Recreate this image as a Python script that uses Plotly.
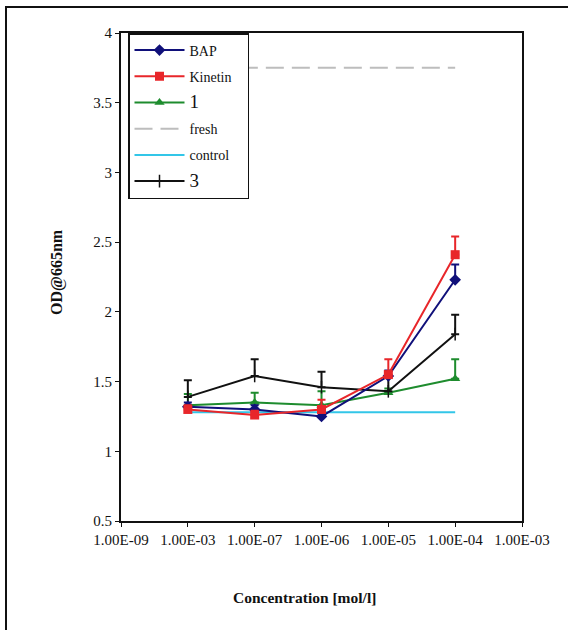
import plotly.graph_objects as go

tick_labels = ["1.00E-09", "1.00E-03", "1.00E-07", "1.00E-06", "1.00E-05", "1.00E-04", "1.00E-03"]
x_pos = [1, 2, 3, 4, 5]

bap = [1.32, 1.30, 1.25, 1.54, 2.23]
bap_err = [0.03, 0.03, 0.03, 0.04, 0.11]
kinetin = [1.30, 1.26, 1.30, 1.55, 2.41]
kinetin_err = [0.03, 0.03, 0.07, 0.11, 0.13]
s1 = [1.33, 1.35, 1.33, 1.42, 1.52]
s1_err = [0.08, 0.07, 0.10, 0.03, 0.14]
s3 = [1.39, 1.54, 1.46, 1.43, 1.84]
s3_err = [0.12, 0.12, 0.11, 0.10, 0.14]
fresh = [3.75, 3.75, 3.75, 3.75, 3.75]
control = [1.28, 1.28, 1.28, 1.28, 1.28]

FONT = "Liberation Serif"
L, R, T, B = 121, 522, 33, 521
PW, PH = R - L, B - T

def px(x):
    return (x - L) / PW

def py(y):
    return (B - y) / PH

def err(vals, color):
    return dict(type="data", array=vals, arrayminus=[0]*len(vals), symmetric=False,
                color=color, thickness=2, width=4)

fig = go.Figure()
fig.add_trace(go.Scatter(x=x_pos, y=fresh, name="fresh", mode="lines",
                         line=dict(color="#BDBDBD", width=2, dash="18px,8px"), legendrank=4, legendgroup="f"))
fig.add_trace(go.Scatter(x=x_pos, y=control, name="control", mode="lines",
                         line=dict(color="#33C6E8", width=2), legendrank=5, legendgroup="c"))
fig.add_trace(go.Scatter(x=x_pos, y=s1, name="<span style='font-size:19px'>1</span>", mode="lines+markers",
                         line=dict(color="#1E8C2E", width=2),
                         marker=dict(symbol="triangle-up", size=9, color="#1E8C2E"),
                         error_y=err(s1_err, "#1E8C2E"), legendrank=3, legendgroup="g"))
fig.add_trace(go.Scatter(x=x_pos, y=s3, name="<span style='font-size:19px'>3</span>", mode="lines+markers",
                         line=dict(color="#111111", width=2),
                         marker=dict(symbol="line-ns", size=9, line=dict(color="#111111", width=1.5)),
                         error_y=err(s3_err, "#111111"), legendrank=6, legendgroup="b"))
fig.add_trace(go.Scatter(x=x_pos, y=bap, name="BAP", mode="lines+markers",
                         line=dict(color="#10107A", width=2),
                         marker=dict(symbol="diamond", size=9, color="#10107A"),
                         error_y=err(bap_err, "#10107A"), legendrank=1, legendgroup="a"))
fig.add_trace(go.Scatter(x=x_pos, y=kinetin, name="Kinetin&nbsp;&nbsp;&nbsp;", mode="lines+markers",
                         line=dict(color="#E8262A", width=2),
                         marker=dict(symbol="square", size=9, color="#E8262A"),
                         error_y=err(kinetin_err, "#E8262A"), legendrank=2, legendgroup="k"))

fig.update_layout(
    width=568, height=630,
    margin=dict(l=L, r=568 - R, t=T, b=630 - B, autoexpand=False),
    paper_bgcolor="white", plot_bgcolor="white",
    font=dict(family=FONT, size=15, color="#111111"),
    showlegend=True,
    legend=dict(x=px(128), y=1.0, xanchor="left", yanchor="top",
                bgcolor="white", bordercolor="#111111", borderwidth=1.5,
                font=dict(family=FONT, size=14), tracegroupgap=5,
                itemwidth=50),
    xaxis=dict(range=[0, 6], tickmode="array", tickvals=list(range(7)), ticktext=tick_labels,
               showgrid=False, zeroline=False, showline=True, linecolor="#111111", linewidth=2,
               mirror=True, ticks="outside", ticklen=4, tickcolor="#111111",
               tickfont=dict(family=FONT, size=15), automargin=False),
    yaxis=dict(range=[0.5, 4], dtick=0.5, tick0=0.5,
               showgrid=False, zeroline=False, showline=True, linecolor="#111111", linewidth=2,
               mirror=True, ticks="outside", ticklen=4, tickcolor="#111111",
               tickfont=dict(family=FONT, size=15), automargin=False),
    annotations=[
        dict(text="<b>Concentration [mol/l]</b>", xref="paper", yref="paper",
             x=px(304), y=py(597), xanchor="center", yanchor="middle", showarrow=False,
             font=dict(family=FONT, size=15.5)),
        dict(text="<b>OD@665nm</b>", xref="paper", yref="paper", textangle=-90,
             x=px(57), y=py(272), xanchor="center", yanchor="middle", showarrow=False,
             font=dict(family=FONT, size=16)),
    ],
)

fig.add_shape(type="rect", xref="paper", yref="paper",
              x0=px(6), x1=px(700), y0=py(800), y1=py(7),
              line=dict(color="#111111", width=2), fillcolor="rgba(0,0,0,0)", layer="below")

fig.write_html("out.html", config={"displayModeBar": False},
               post_script="document.body.style.margin='0';document.body.style.overflow='hidden';")
